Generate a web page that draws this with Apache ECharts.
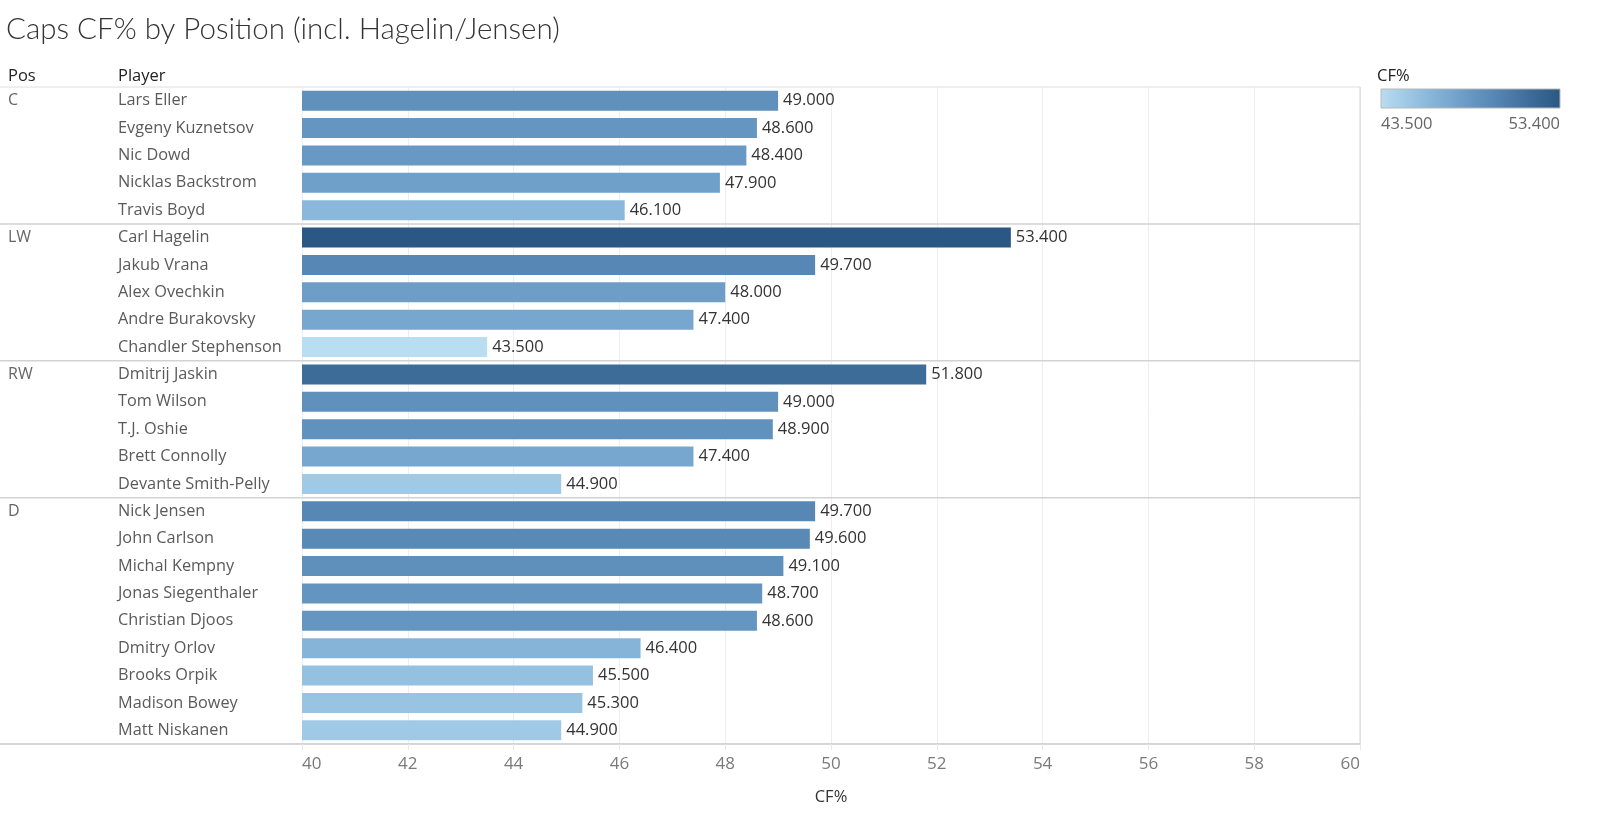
<!DOCTYPE html>
<html>
<head>
<meta charset="utf-8">
<script src="https://cdn.jsdelivr.net/npm/echarts@6/dist/echarts.min.js"></script>
<style>
html,body{margin:0;padding:0;background:#fff;}
#c{width:1600px;height:835px;}
</style>
</head>
<body>
<div id="c"></div>
<script>
const positions = ['C','C','C','C','C','LW','LW','LW','LW','LW','RW','RW','RW','RW','RW','D','D','D','D','D','D','D','D','D'];
const players = ['Lars Eller','Evgeny Kuznetsov','Nic Dowd','Nicklas Backstrom','Travis Boyd',
  'Carl Hagelin','Jakub Vrana','Alex Ovechkin','Andre Burakovsky','Chandler Stephenson',
  'Dmitrij Jaskin','Tom Wilson','T.J. Oshie','Brett Connolly','Devante Smith-Pelly',
  'Nick Jensen','John Carlson','Michal Kempny','Jonas Siegenthaler','Christian Djoos','Dmitry Orlov','Brooks Orpik','Madison Bowey','Matt Niskanen'];
const cfPct = [49.0,48.6,48.4,47.9,46.1,
  53.4,49.7,48.0,47.4,43.5,
  51.8,49.0,48.9,47.4,44.9,
  49.7,49.6,49.1,48.7,48.6,46.4,45.5,45.3,44.9];
const xTicks = {min:40, max:60, interval:2};

(function(){
const FONT = '"Open Sans", Lato, sans-serif';
const palette = ['#b9ddf1','#8cbadd','#6798c3','#4877a5','#2a5783'];
const vmin = Math.min(...cfPct), vmax = Math.max(...cfPct);

const chart = echarts.init(document.getElementById('c'));
const GL = 302, GR = 1360, GT = 87, GB = 744;

chart.setOption({
  animation:false,
  backgroundColor:'#fff',
  grid:{left:GL, right:1600-GR, top:GT, bottom:835-GB, containLabel:false},
  visualMap:{show:false, type:'continuous', min:vmin, max:vmax, dimension:0, inRange:{color:palette}},
  xAxis:{type:'value', min:xTicks.min, max:xTicks.max, interval:xTicks.interval,
    axisLine:{show:false},
    axisTick:{show:true, length:6, lineStyle:{color:'#e8e8e8'}},
    splitLine:{show:true, lineStyle:{color:'#eeeeee', width:1}},
    axisLabel:{color:'#7a7a7a', fontSize:17, fontFamily:FONT, margin:12, alignMinLabel:'left', alignMaxLabel:'right'},
    name:'CF%', nameLocation:'middle', nameGap:45,
    nameTextStyle:{color:'#333', fontSize:16.5, fontFamily:FONT}
  },
  yAxis:{type:'category', data:players, inverse:true,
    axisLine:{show:false}, axisTick:{show:false}, splitLine:{show:false},
    axisLabel:{align:'left', margin:GL-8, fontFamily:FONT,
      formatter:(v, i)=>{
        const p = (i===0 || positions[i]!==positions[i-1]) ? positions[i] : '';
        return '{p|'+p+'}{n|'+v+'}';
      },
      rich:{p:{width:110, color:'#666', fontSize:16, fontFamily:FONT},
            n:{color:'#5a5a5a', fontSize:16.3, fontFamily:FONT}}
    }
  },
  series:[{type:'bar', data:cfPct, barWidth:20,
    label:{show:true, position:'right', distance:5, color:'#333', fontSize:16.5, fontFamily:FONT,
      formatter:(p)=>p.value.toFixed(3)}
  }]
});

const g = [];
const yc = players.map(p=>chart.convertToPixel({yAxisIndex:0}, p));
const band = yc[1]-yc[0];
const yTop = yc[0]-band/2, yBot = yc[yc.length-1]+band/2;
g.push({type:'line', shape:{x1:0,y1:yTop,x2:GR,y2:yTop}, style:{stroke:'#dedede', lineWidth:1}});
g.push({type:'line', shape:{x1:GR,y1:yTop,x2:GR,y2:yBot}, style:{stroke:'#d6d6d6', lineWidth:1}});
for(let i=1;i<positions.length;i++){
  if(positions[i]!==positions[i-1]){
    const y = (yc[i]+yc[i-1])/2;
    g.push({type:'line', shape:{x1:0,y1:y,x2:GR,y2:y}, style:{stroke:'#d2d2d2', lineWidth:1.5}});
  }
}
g.push({type:'line', shape:{x1:0,y1:yBot,x2:GR,y2:yBot}, style:{stroke:'#c8c8c8', lineWidth:1.5}});
g.push({type:'text', x:6, y:29, style:{text:'Caps CF% by Position (incl. Hagelin/Jensen)', fill:'#333', font:'300 29.5px Lato, sans-serif', textVerticalAlign:'middle'}});
g.push({type:'text', x:8, y:76, style:{text:'Pos', fill:'#222', font:'16.5px '+FONT, textVerticalAlign:'middle'}});
g.push({type:'text', x:118, y:76, style:{text:'Player', fill:'#222', font:'16.5px '+FONT, textVerticalAlign:'middle'}});
g.push({type:'text', x:1377, y:76, style:{text:'CF%', fill:'#222', font:'16.5px '+FONT, textVerticalAlign:'middle'}});
g.push({type:'rect', shape:{x:1381,y:89,width:179,height:19},
  style:{fill:new echarts.graphic.LinearGradient(0,0,1,0, palette.map((c,i)=>({offset:i/(palette.length-1), color:c}))),
  stroke:'#b8b8b8', lineWidth:1}});
g.push({type:'text', x:1381, y:124, style:{text:vmin.toFixed(3), fill:'#666', font:'16.5px '+FONT, textAlign:'left', textVerticalAlign:'middle'}});
g.push({type:'text', x:1560, y:124, style:{text:vmax.toFixed(3), fill:'#666', font:'16.5px '+FONT, textAlign:'right', textVerticalAlign:'middle'}});
chart.setOption({graphic:g});
})();
</script>
</body>
</html>
